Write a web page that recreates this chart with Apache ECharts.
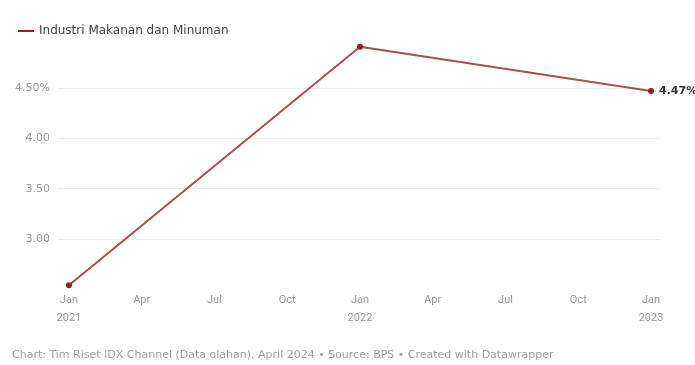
<!DOCTYPE html>
<html>
<head>
<meta charset="utf-8">
<script src="https://cdn.jsdelivr.net/npm/echarts@6/dist/echarts.min.js"></script>
<style>
  html, body { margin: 0; padding: 0; background: #fff; }
  #chart { width: 695px; height: 365px; }
</style>
</head>
<body>
<div id="chart"></div>
<script>
// months counted from Jan 2021
const months = [0, 12, 24];
const values = [2.54, 4.91, 4.47];
const seriesName = 'Industri Makanan dan Minuman';
const tickMonths = [0, 3, 6, 9, 12, 15, 18, 21, 24];
const tickLabels = ['Jan\n2021', 'Apr', 'Jul', 'Oct', 'Jan\n2022', 'Apr', 'Jul', 'Oct', 'Jan\n2023'];
const footer = 'Chart: Tim Riset IDX Channel (Data olahan), April 2024 \u2022 Source: BPS \u2022 Created with Datawrapper';

const chart = echarts.init(document.getElementById('chart'));
const font = 'Roboto, "Open Sans", sans-serif';
const wide = '"DejaVu Sans", sans-serif';

chart.setOption({
    animation: false,
    textStyle: { fontFamily: font },
    legend: {
        left: 13, top: 20,
        icon: 'rect', itemWidth: 16, itemHeight: 2, itemGap: 6,
        textStyle: { fontSize: 12, color: '#444', fontFamily: wide },
        data: [seriesName]
    },
    grid: { left: 58, right: 35, top: 88, bottom: 126 },
    xAxis: {
        type: 'value',
        min: -0.45, max: 24.37,
        axisLine: { show: false },
        axisTick: { show: false },
        splitLine: { show: false },
        axisLabel: {
            customValues: tickMonths,
            margin: 52,
            color: '#999', fontSize: 11, lineHeight: 18,
            formatter: (v) => tickLabels[tickMonths.indexOf(Math.round(v))] || ''
        }
    },
    yAxis: {
        type: 'value',
        min: 3, max: 4.5, interval: 0.5,
        axisLine: { show: false },
        axisTick: { show: false },
        splitLine: { lineStyle: { color: '#ededed', width: 1 } },
        axisLabel: {
            margin: 8, color: '#999', fontSize: 11, fontFamily: wide,
            formatter: (v) => v === 4.5 ? v.toFixed(2) + '%' : v.toFixed(2)
        }
    },
    series: [{
        name: seriesName,
        type: 'line',
        clip: false,
        data: months.map((m, i) => [m, values[i]]),
        symbol: 'circle', symbolSize: 6,
        lineStyle: { color: '#a8504f', width: 2 },
        itemStyle: { color: '#8e2228' },
        endLabel: {
            show: true, distance: 8,
            color: '#333', fontSize: 11, fontWeight: 'bold', fontFamily: wide,
            formatter: (p) => p.value[1].toFixed(2) + '%'
        }
    }],
    graphic: [{
        type: 'text', left: 12, top: 350,
        style: { text: footer, fill: '#a0a0a0', fontSize: 11, fontFamily: wide }
    }]
});
</script>
</body>
</html>
